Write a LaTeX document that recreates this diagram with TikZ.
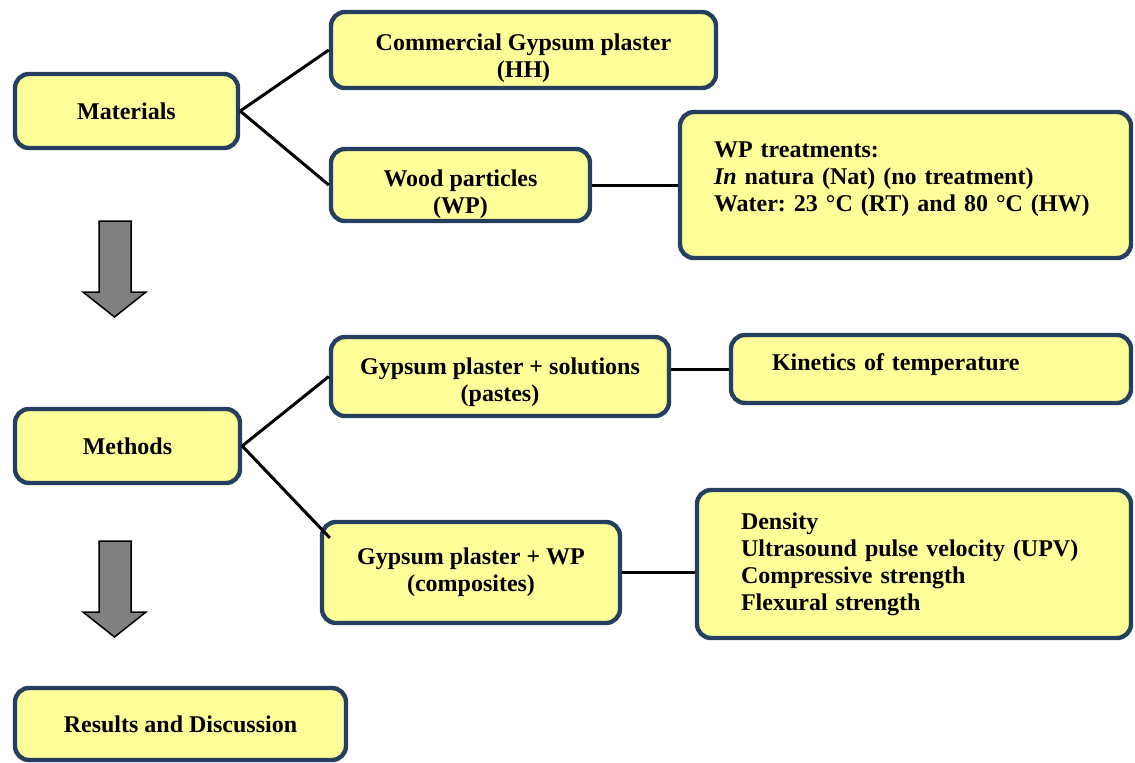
\documentclass[tikz,border=0pt]{standalone}
\usepackage{fontspec}
\setmainfont{Liberation Serif}
\frenchspacing
\begin{document}
\begin{tikzpicture}[x=0.5pt,y=-0.5pt]
        %colores
        \definecolor{amarillo}{RGB}{255,255,153}
        \definecolor{azul}{RGB}{36,63,96}
        \colorlet{gris}{black!50}
        %estilos
        \tikzset{
            caja/.style={draw=azul, line width=2.2pt, fill=amarillo, rounded corners=7pt,
                font=\fontsize{12}{13.5}\selectfont\bfseries, align=center, inner sep=0pt},
            linea/.style={line width=1.5pt},
            bloque/.style={draw=black, line width=0.75pt, fill=gris}
        }
        \useasboundingbox (0,0) rectangle (1135,762);

        % Materiales
        \node[caja, minimum width=111.5pt, minimum height=37pt] (mat) at (126.5,111) {Materials};
        \node[caja, minimum width=192.5pt, minimum height=38pt, text height=30.3pt] (hh) at (523.5,50) {Commercial Gypsum plaster\\(HH)};
        \node[caja, minimum width=129.5pt, minimum height=36pt, text height=31.3pt] (wp) at (460.5,185) {Wood particles\\(WP)};
        \node[caja, align=left, text width=191.5pt, inner xsep=17pt, minimum height=73pt, text depth=35pt] (trat) at (905.5,185)
            {WP treatments:\\\textit{In} natura (Nat) (no treatment)\\Water: 23 °C (RT) and 80 °C (HW)};

        % Metodos
        \node[caja, minimum width=112.5pt, minimum height=37pt] (met) at (127.5,446) {Methods};
        \node[caja, minimum width=169pt, minimum height=39.5pt, text height=27.8pt] (pastas) at (500,376.5) {Gypsum plaster + solutions\\(pastes)};
        \node[caja, align=left, text width=159pt, inner xsep=20.5pt, minimum height=34pt, text depth=7.3pt] (cin) at (931,369)
            {Kinetics of temperature};
        \node[caja, minimum width=149pt, minimum height=50.5pt] (comp) at (471,572.5) {Gypsum plaster + WP\\(composites)};
        \node[caja, align=left, text width=173pt, inner xsep=22pt, minimum height=74pt] (ens) at (914,564)
            {Density\\Ultrasound pulse velocity (UPV)\\Compressive strength\\Flexural strength};

        % Resultados
        \node[caja, minimum width=165.5pt, minimum height=36pt] (res) at (180.5,724) {Results and Discussion};

        % Lineas
        \draw[linea] (mat.east) -- (hh.west);
        \draw[linea] (mat.east) -- (wp.west);
        \draw[linea] (wp.east) -- (trat.west);
        \draw[linea] (met.east) -- (pastas.west);
        \draw[linea] (met.east) -- ([shift={(5pt,-9pt)}]comp.north west);
        \draw[linea] (cin.west -| pastas.east) -- (cin.west);
        \draw[linea] (comp.east) -- (comp.east -| ens.west);

        % Flechas
        \foreach \dy in {0,320}
            \draw[bloque] (99,221+\dy) -- (131,221+\dy) -- (131,292+\dy) -- (146,292+\dy)
                -- (114.5,317+\dy) -- (83,292+\dy) -- (99,292+\dy) -- cycle;
    \end{tikzpicture}
\end{document}
